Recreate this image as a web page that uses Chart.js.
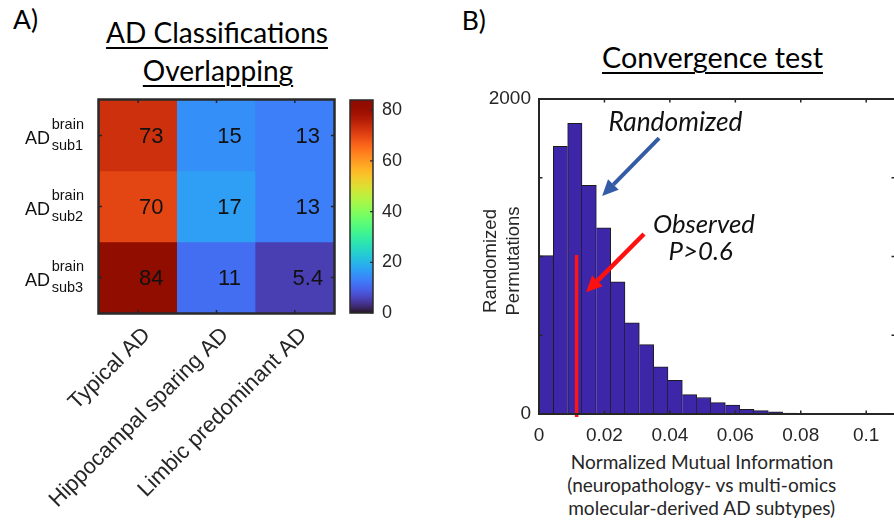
<!DOCTYPE html>
<html>
<head>
<meta charset="utf-8">
<title>AD classifications overlapping and convergence test</title>
<script src="https://cdn.jsdelivr.net/npm/chart.js@4.4.1/dist/chart.umd.min.js"></script>
<style>
  html, body { margin:0; padding:0; background:#fff; }
  body { width:894px; height:525px; overflow:hidden; position:relative; }
  canvas { position:absolute; top:0; }
  .txt { position:absolute; white-space:nowrap; color:#000; margin:0; padding:0; }
  .ul { text-decoration: underline; text-decoration-thickness: 2px; text-underline-offset: 3.5px; }
</style>
</head>
<body>
<div class="txt" id="panelA"></div>
<div class="txt" id="panelB"></div>
<div class="txt ul" id="titleA1"></div>
<div class="txt ul" id="titleA2"></div>
<div class="txt ul" id="titleB"></div>
<div class="txt" id="xTitle1" style="color:#262626"></div>
<div class="txt" id="xTitle2" style="color:#262626"></div>
<div class="txt" id="xTitle3" style="color:#262626"></div>
<canvas id="heatCanvas" width="345" height="525" style="left:0px"></canvas>
<canvas id="cbarCanvas" width="95" height="525" style="left:345px"></canvas>
<canvas id="histCanvas" width="456" height="525" style="left:440px"></canvas>
<script>
// ---------------- data ----------------
const heatColumns = ['Typical AD', 'Hippocampal sparing AD', 'Limbic predominant AD'];
const heatRowBase = 'AD';
const heatRowSup = 'brain';
const heatRowSubs = ['sub1', 'sub2', 'sub3'];
const overlapSub1 = [73, 15, 13];
const overlapSub2 = [70, 17, 13];
const overlapSub3 = [84, 11, 5.4];
const colorLimits = [0, 84];
const colorbarTicks = [0, 20, 40, 60, 80];

const histCounts = [1006, 1700, 1846, 1452, 1182, 839, 579, 440, 300, 214, 123, 105, 72, 57, 29, 21, 13, 6, 3, 1];
const histBinWidth = 0.00438;
const histXRange = [0, 0.1088];
const histYRange = [0, 2000];
const histXTicks = [0, 0.02, 0.04, 0.06, 0.08, 0.1];
const histXTickLabels = ['0', '0.02', '0.04', '0.06', '0.08', '0.1'];
const histYTicks = [0, 500, 1000, 1500, 2000];
const histYTickLabels = ['0', '', '', '', '2000'];
const observedNMI = 0.0115;
const observedSpan = [-19, 1010];

const textTitleA = ['AD Classifications', 'Overlapping'];
const textTitleB = 'Convergence test';
const textXTitle = ['Normalized Mutual Information', '(neuropathology- vs multi-omics', 'molecular-derived AD subtypes)'];
const textYTitle = ['Randomized', 'Permutations'];

// annotation anchors in data units of the histogram
const annot = {
  randomized: { text: 'Randomized', x: 0.0417, y: 1799 },
  observed:   { text: 'Observed',   x: 0.0504, y: 1152 },
  pvalue:     { text: 'P>0.6',      x: 0.0494, y: 978 },
  blueArrow:  { x1: 0.0367, y1: 1752, x2: 0.0193, y2: 1384 },
  redArrow:   { x1: 0.0321, y1: 1143, x2: 0.0144, y2: 773 }
};

// ---------------- helpers ----------------
function turbo(t) {
  t = Math.min(1, Math.max(0, t));
  const r = 0.13572138 + t*(4.61539260 + t*(-42.66032258 + t*(132.13108234 + t*(-152.94239396 + t*59.28637943))));
  const g = 0.09140261 + t*(2.19418839 + t*(4.84296658 + t*(-14.18503333 + t*(4.27729857 + t*2.82956604))));
  const b = 0.10667330 + t*(12.64194608 + t*(-60.58204836 + t*(110.36276771 + t*(-89.90310912 + t*27.34824973))));
  const c = v => Math.round(255 * Math.min(1, Math.max(0, v)));
  return `rgb(${c(r)},${c(g)},${c(b)})`;
}
const mctx = document.createElement('canvas').getContext('2d');
function fitSize(text, family, style, target) {
  mctx.font = `${style} 100px ${family}`;
  return 100 * target / mctx.measureText(text).width;
}
function placeText(id, text, family, style, size, x, baseline, align) {
  const font = `${style} ${size}px ${family}`;
  mctx.font = font;
  const m = mctx.measureText(text);
  const el = document.getElementById(id);
  el.textContent = text;
  el.style.font = font;
  el.style.lineHeight = (m.fontBoundingBoxAscent + m.fontBoundingBoxDescent) + 'px';
  el.style.top = (baseline - m.fontBoundingBoxAscent) + 'px';
  el.style.left = (align === 'center' ? x - m.width / 2 : x) + 'px';
}
function fmtVal(v) { return Number.isInteger(v) ? String(v) : v.toFixed(1); }
function labelFor(v, ticks, labels) {
  const i = ticks.findIndex(t => Math.abs(t - v) < 1e-9);
  return i >= 0 ? labels[i] : '';
}

const CAL = 'Lato, "Open Sans", sans-serif';
const HEL = '"Liberation Sans", Arial, sans-serif';

// ---------------- HTML titles ----------------
const panelSize = fitSize('A)', CAL, 'normal', 25);
placeText('panelA', 'A)', CAL, 'normal', panelSize, 13, 28.5, 'left');
placeText('panelB', 'B)', CAL, 'normal', panelSize, 461.7, 29.5, 'left');
const titleSize = fitSize(textTitleA[0], CAL, 'normal', 222);
placeText('titleA1', textTitleA[0], CAL, 'normal', titleSize, 217, 43.3, 'center');
placeText('titleA2', textTitleA[1], CAL, 'normal', titleSize, 218, 81, 'center');
placeText('titleB', textTitleB, CAL, 'normal', fitSize(textTitleB, CAL, 'normal', 221), 712.5, 68.3, 'center');
const xtSize = fitSize(textXTitle[0], CAL, 'normal', 262.6);
placeText('xTitle1', textXTitle[0], CAL, 'normal', xtSize, 702, 469.3, 'center');
placeText('xTitle2', textXTitle[1], CAL, 'normal', xtSize, 702, 492, 'center');
placeText('xTitle3', textXTitle[2], CAL, 'normal', xtSize, 702, 515, 'center');

const annSizeR = fitSize(annot.randomized.text, CAL, 'italic', 134);
const annSizeO = fitSize(annot.observed.text, CAL, 'italic', 102);

// ---------------- heatmap ----------------
const heatRows = [overlapSub1, overlapSub2, overlapSub3];
const heatPlugin = {
  id: 'heatDecor',
  afterDraw(chart) {
    const { ctx, chartArea: a, scales: { x, y } } = chart;
    ctx.save();
    // cell values
    ctx.font = `22px ${HEL}`;
    ctx.fillStyle = '#111';
    ctx.textAlign = 'center';
    ctx.textBaseline = 'middle';
    heatRows.forEach((vals, r) => vals.forEach((v, c) => {
      ctx.fillText(fmtVal(v), x.getPixelForValue(c) + 13, y.getPixelForValue(r + 1) + 1.5);
    }));
    // frame
    ctx.strokeStyle = '#2a2a2a';
    ctx.lineWidth = 2.5;
    ctx.strokeRect(a.left - 0.5, a.top - 0.5, a.right - a.left + 1, a.bottom - a.top + 1);
    // ticks
    ctx.lineWidth = 1.5;
    ctx.strokeStyle = '#262626';
    ctx.beginPath();
    heatColumns.forEach((_, c) => {
      const px = x.getPixelForValue(c);
      ctx.moveTo(px, a.bottom); ctx.lineTo(px, a.bottom - 3);
      ctx.moveTo(px, a.top); ctx.lineTo(px, a.top + 3);
    });
    heatRowSubs.forEach((_, r) => {
      const py = y.getPixelForValue(r + 1);
      ctx.moveTo(a.left, py); ctx.lineTo(a.left + 3, py);
      ctx.moveTo(a.right, py); ctx.lineTo(a.right - 3, py);
    });
    ctx.stroke();
    // row labels
    ctx.fillStyle = '#111';
    ctx.textAlign = 'left';
    ctx.textBaseline = 'alphabetic';
    heatRowSubs.forEach((s, r) => {
      const cy = y.getPixelForValue(r + 1);
      ctx.font = `18px ${HEL}`;
      ctx.fillText(heatRowBase, a.left - 74, cy + 8);
      ctx.font = `14.5px ${HEL}`;
      ctx.fillText(heatRowSup, a.left - 47.3, cy - 6.7);
      ctx.fillText(s, a.left - 47.3, cy + 14);
    });
    // rotated column labels
    ctx.font = `22px ${HEL}`;
    ctx.fillStyle = '#262626';
    ctx.textAlign = 'right';
    heatColumns.forEach((lab, c) => {
      ctx.save();
      ctx.translate(x.getPixelForValue(c) + 13, a.bottom + 23);
      ctx.rotate(-Math.PI / 4);
      ctx.fillText(lab, 0, 0);
      ctx.restore();
    });
    ctx.restore();
  }
};
new Chart(document.getElementById('heatCanvas'), {
  type: 'bar',
  data: {
    labels: heatColumns,
    datasets: heatRows.map((vals, r) => ({
      data: vals.map(() => [r + 0.5, r + 1.5]),
      backgroundColor: vals.map(v => turbo((v - colorLimits[0]) / (colorLimits[1] - colorLimits[0]))),
      borderWidth: 0,
      barPercentage: 1,
      categoryPercentage: 1,
      grouped: false
    }))
  },
  options: {
    responsive: false, animation: false, events: [],
    layout: { padding: { left: 99, top: 100, right: 11, bottom: 212 } },
    plugins: { legend: { display: false }, tooltip: { enabled: false } },
    scales: {
      x: { display: false },
      y: { display: false, min: 0.5, max: 3.5, reverse: true }
    }
  },
  plugins: [heatPlugin]
});

// ---------------- colorbar ----------------
const cbarPlugin = {
  id: 'cbarDecor',
  afterDraw(chart) {
    const { ctx, chartArea: a, scales: { y } } = chart;
    ctx.save();
    ctx.strokeStyle = '#2a2a2a';
    ctx.lineWidth = 1.5;
    ctx.strokeRect(a.left, a.top, a.right - a.left, a.bottom - a.top);
    ctx.lineWidth = 1.2;
    ctx.beginPath();
    colorbarTicks.forEach(t => {
      const py = y.getPixelForValue(t);
      ctx.moveTo(a.right, py); ctx.lineTo(a.right - 3, py);
    });
    ctx.stroke();
    ctx.restore();
  }
};
new Chart(document.getElementById('cbarCanvas'), {
  type: 'bar',
  data: {
    labels: ['colorbar'],
    datasets: [{
      data: [colorLimits],
      backgroundColor: (c) => {
        const ca = c.chart.chartArea;
        if (!ca) return 'rgba(0,0,0,0)';
        const g = c.chart.ctx.createLinearGradient(0, ca.bottom, 0, ca.top);
        for (let i = 0; i <= 64; i++) g.addColorStop(i / 64, turbo(i / 64));
        return g;
      },
      borderWidth: 0, barPercentage: 1, categoryPercentage: 1
    }]
  },
  options: {
    responsive: false, animation: false, events: [],
    layout: { padding: { left: 5, top: 100, right: 0, bottom: 212 } },
    plugins: { legend: { display: false }, tooltip: { enabled: false } },
    scales: {
      x: { display: false },
      y: {
        position: 'right', min: colorLimits[0], max: colorLimits[1],
        grid: { display: false, drawTicks: false }, border: { display: false },
        ticks: {
          stepSize: 20, includeBounds: false, autoSkip: false, padding: 9,
          color: '#262626', font: { family: HEL, size: 18 },
          callback: v => colorbarTicks.includes(v) ? String(v) : ''
        },
        afterFit: s => { s.width = 67; }
      }
    }
  },
  plugins: [cbarPlugin]
});

// ---------------- histogram ----------------
function drawArrow(ctx, x1, y1, x2, y2, color, w, hl, hw) {
  const ang = Math.atan2(y2 - y1, x2 - x1);
  const bx = x2 - hl * Math.cos(ang), by = y2 - hl * Math.sin(ang);
  ctx.strokeStyle = color; ctx.fillStyle = color; ctx.lineWidth = w; ctx.lineCap = 'butt';
  ctx.beginPath(); ctx.moveTo(x1, y1); ctx.lineTo(bx, by); ctx.stroke();
  ctx.beginPath();
  ctx.moveTo(x2, y2);
  ctx.lineTo(bx + hw / 2 * Math.sin(ang), by - hw / 2 * Math.cos(ang));
  ctx.lineTo(bx - hw / 2 * Math.sin(ang), by + hw / 2 * Math.cos(ang));
  ctx.closePath(); ctx.fill();
}
const histPlugin = {
  id: 'histDecor',
  afterDraw(chart) {
    const { ctx, chartArea: a, scales: { x, y } } = chart;
    ctx.save();
    // frame
    ctx.strokeStyle = '#262626';
    ctx.lineWidth = 2;
    ctx.strokeRect(a.left, a.top, a.right - a.left, a.bottom - a.top);
    // inward ticks
    ctx.lineWidth = 1.5;
    ctx.beginPath();
    histXTicks.forEach(t => {
      const px = x.getPixelForValue(t);
      ctx.moveTo(px, a.bottom); ctx.lineTo(px, a.bottom - 3.5);
      ctx.moveTo(px, a.top); ctx.lineTo(px, a.top + 3.5);
    });
    histYTicks.forEach(t => {
      const py = y.getPixelForValue(t);
      ctx.moveTo(a.left, py); ctx.lineTo(a.left + 3.5, py);
      ctx.moveTo(a.right, py); ctx.lineTo(a.right - 3.5, py);
    });
    ctx.stroke();
    // arrows
    const B = annot.blueArrow, R = annot.redArrow;
    drawArrow(ctx, x.getPixelForValue(B.x1), y.getPixelForValue(B.y1), x.getPixelForValue(B.x2), y.getPixelForValue(B.y2), '#345ca6', 4, 16, 15);
    drawArrow(ctx, x.getPixelForValue(R.x1), y.getPixelForValue(R.y1), x.getPixelForValue(R.x2), y.getPixelForValue(R.y2), '#ff1010', 4.5, 16, 15);
    // annotation texts
    ctx.fillStyle = '#111';
    ctx.textAlign = 'center';
    ctx.textBaseline = 'alphabetic';
    ctx.font = `italic ${annSizeR}px ${CAL}`;
    ctx.fillText(annot.randomized.text, x.getPixelForValue(annot.randomized.x), y.getPixelForValue(annot.randomized.y));
    ctx.font = `italic ${annSizeO}px ${CAL}`;
    ctx.fillText(annot.observed.text, x.getPixelForValue(annot.observed.x), y.getPixelForValue(annot.observed.y));
    ctx.fillText(annot.pvalue.text, x.getPixelForValue(annot.pvalue.x), y.getPixelForValue(annot.pvalue.y));
    // y-axis title
    ctx.fillStyle = '#262626';
    ctx.font = `18.5px ${HEL}`;
    ctx.textBaseline = 'middle';
    const cy = (a.top + a.bottom) / 2 + 4.5;
    [a.left - 48, a.left - 25].forEach((lx, i) => {
      ctx.save();
      ctx.translate(lx, cy);
      ctx.rotate(-Math.PI / 2);
      ctx.fillText(textYTitle[i], 0, 0);
      ctx.restore();
    });
    ctx.restore();
  }
};
const lastBin = histCounts.length - 1;
new Chart(document.getElementById('histCanvas'), {
  data: {
    datasets: [
      {
        type: 'line',
        order: 0,
        data: observedSpan.map(v => ({ x: observedNMI, y: v })),
        borderColor: '#ff1414', borderWidth: 3.5, pointRadius: 0, clip: false, fill: false
      },
      {
        type: 'bar',
        order: 1,
        data: histCounts.map((c, i) => ({ x: (i + 0.5) * histBinWidth, y: c })),
        backgroundColor: '#3e26a8',
        borderColor: '#1c1c1c',
        borderWidth: (c) => {
          const i = c.dataIndex;
          return {
            top: 1, bottom: 0,
            left: (i === 0 || histCounts[i - 1] <= histCounts[i]) ? 1 : 0,
            right: (i === lastBin || histCounts[i + 1] < histCounts[i]) ? 1 : 0
          };
        },
        barPercentage: 1, categoryPercentage: 1
      }
    ]
  },
  options: {
    responsive: false, animation: false, events: [],
    layout: { padding: { left: 0, top: 99, right: 1, bottom: 0 } },
    plugins: { legend: { display: false }, tooltip: { enabled: false } },
    scales: {
      x: {
        type: 'linear', min: histXRange[0], max: histXRange[1], offset: false,
        grid: { display: false, drawTicks: false }, border: { display: false },
        ticks: {
          stepSize: 0.02, includeBounds: false, autoSkip: false, maxRotation: 0, padding: 10,
          color: '#262626', font: { family: HEL, size: 19 },
          callback: v => labelFor(v, histXTicks, histXTickLabels)
        },
        afterFit: s => { s.height = 111; }
      },
      y: {
        type: 'linear', min: histYRange[0], max: histYRange[1],
        grid: { display: false, drawTicks: false }, border: { display: false },
        ticks: {
          stepSize: 500, includeBounds: false, autoSkip: false, padding: 8,
          color: '#262626', font: { family: HEL, size: 19 },
          callback: v => labelFor(v, histYTicks, histYTickLabels)
        },
        afterFit: s => { s.width = 99; }
      }
    }
  },
  plugins: [histPlugin]
});
</script>
</body>
</html>
